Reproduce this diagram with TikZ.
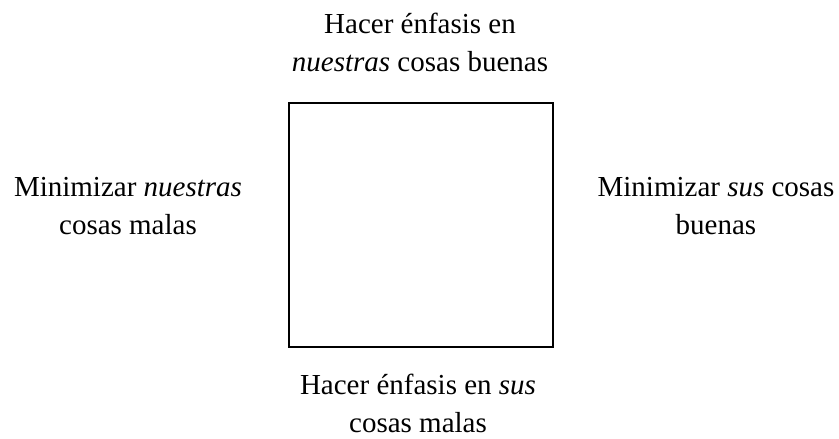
\documentclass[tikz,border=0pt]{standalone}
\usepackage{fontspec}
\setmainfont{Liberation Serif}
\begin{document}
\begin{tikzpicture}[x=1pt,y=1pt,
  lbl/.style={align=center,font=\fontsize{29}{38}\selectfont,inner sep=0pt}]
\useasboundingbox (0,0) rectangle (839,439);
\node[draw,line width=1.5pt,minimum width=264pt,minimum height=244pt,inner sep=0pt] (sq) at (421,214) {};
\node[lbl] (top) at (420,397) {Hacer énfasis en\\\textit{nuestras} cosas buenas};
\node[lbl] (left) at (128,233) {Minimizar \textit{nuestras}\\cosas malas};
\node[lbl] (right) at (716,233) {Minimizar \textit{sus} cosas\\buenas};
\node[lbl] (bottom) at (418,36) {Hacer énfasis en \textit{sus}\\cosas malas};
\end{tikzpicture}
\end{document}
